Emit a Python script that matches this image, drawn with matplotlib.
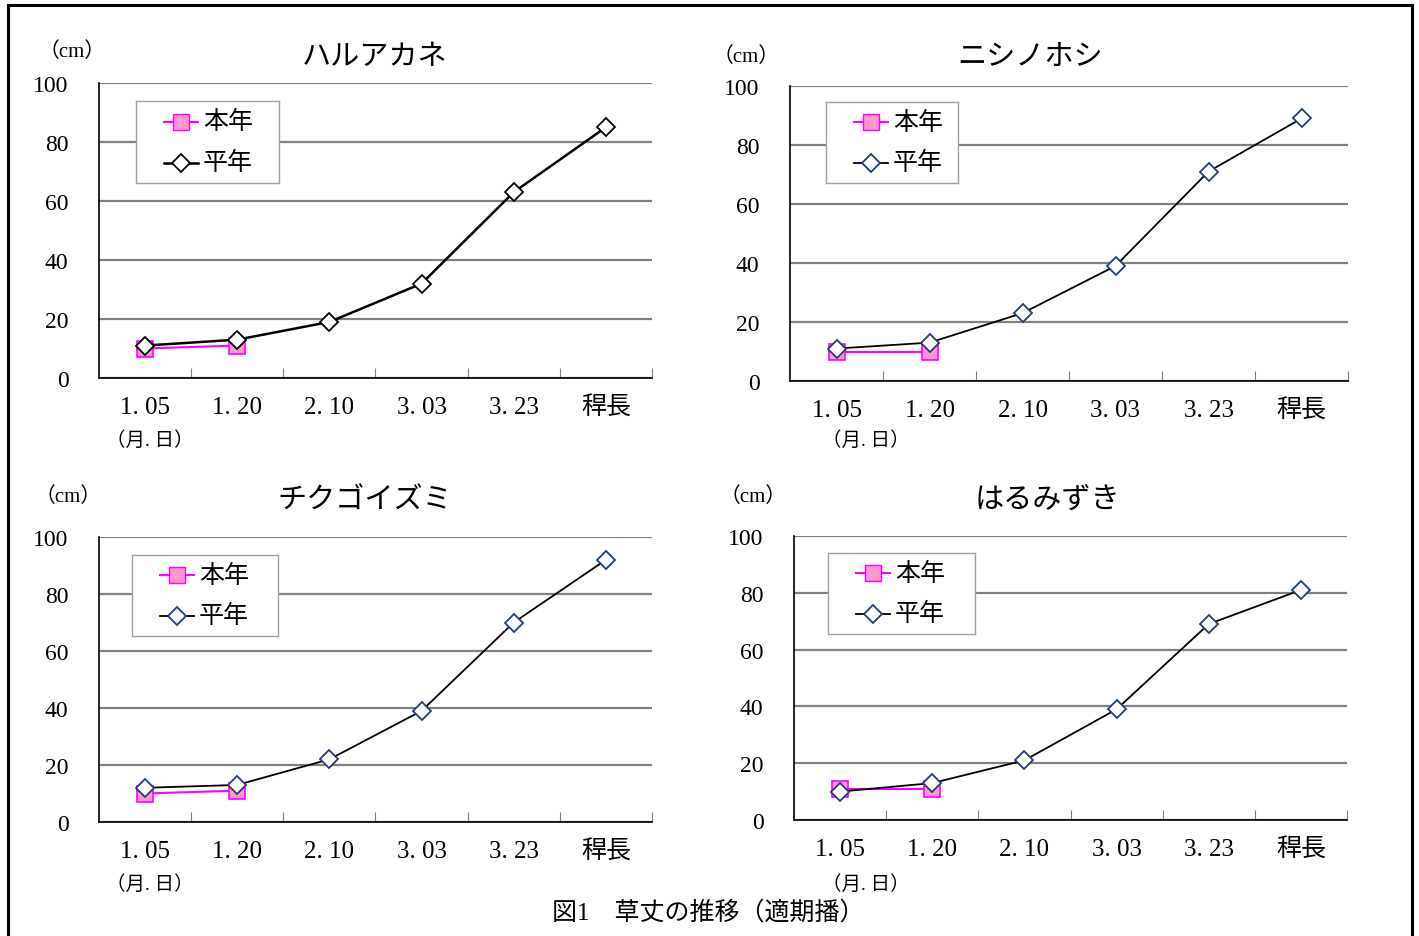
import numpy as np
import matplotlib.pyplot as plt

plt.rcParams['font.family'] = ['Liberation Serif', 'Noto Sans CJK JP', 'DejaVu Sans']

categories = ["1. 05", "1. 20", "2. 10", "3. 03", "3. 23", "稈長"]
titles = ["ハルアカネ", "ニシノホシ", "チクゴイズミ", "はるみずき"]

honnen = [
    [10, 11],
    [10, 10],
    [10, 11],
    [11, 11],
]
heinen = [
    [11, 13, 19, 32, 63, 85],
    [11, 13, 23, 39, 71, 89],
    [12, 13, 22, 39, 70, 92],
    [10, 13, 21, 39, 69, 81],
]

W, H = 1419, 937
fig = plt.figure(figsize=(W / 100, H / 100), dpi=100)


def fx(x):
    return x / W


def fy(y):
    return 1 - y / H


# axes boxes in pixels: left, top, right, bottom
boxes = [
    (99, 84, 652, 379),
    (790, 87, 1348, 382),
    (99, 538, 652, 823),
    (794, 537, 1347, 821),
]
title_pos = [(375, 58), (1030, 58), (365, 502), (1047, 501)]
cm_pos = [(72, 52), (746, 57), (68, 497), (753, 497)]
md_pos = [(150, 441), (866, 441), (150, 885), (866, 885)]
legend_box = [(136, 102, 279, 184), (826, 103, 958, 184),
              (132, 556, 278, 637), (828, 554, 975, 635)]
diamond_edge = ["black", "#1f3f6f", "#1f3f6f", "#1f3f6f"]
line_w = [1.8, 1.3, 1.3, 1.3]

x = np.arange(len(categories))

for i in range(4):
    l, t, r, b = boxes[i]
    ax = fig.add_axes([fx(l), fy(b), fx(r - l), (b - t) / H])

    ax.set_ylim(0, 100)
    ax.set_xlim(-0.5, 5.5)
    ax.set_yticks(np.arange(0, 101, 20))
    ax.yaxis.grid(True, color="#808080", linewidth=1.6)
    ax.set_axisbelow(True)
    ax.tick_params(axis="y", length=0, pad=22, labelsize=17)

    ax.set_xticks(np.arange(0.5, 5.6, 1))
    ax.set_xticklabels([])
    ax.set_xticks(x, minor=True)
    ax.set_xticklabels(categories, minor=True)
    ax.tick_params(axis="x", which="major", direction="in", length=7,
                   width=0.8, color="#808080")
    ax.tick_params(axis="x", which="minor", length=0, pad=13, labelsize=18)

    for s in ["top", "right"]:
        ax.spines[s].set_visible(False)
    ax.spines["left"].set_linewidth(1.2)
    ax.spines["bottom"].set_linewidth(1.2)

    ax.plot(x[:len(honnen[i])], honnen[i], color="#ff00ff", linewidth=1.5,
            marker="s", markersize=11, markerfacecolor="#ff99cc",
            markeredgecolor="#ff00ff", markeredgewidth=1.2, zorder=3)
    ax.plot(x, heinen[i], color="black", linewidth=line_w[i],
            marker="D", markersize=9, markerfacecolor="white",
            markeredgecolor=diamond_edge[i], markeredgewidth=1.3, zorder=4)

    # legend drawn as a box with sample lines
    ll, lt, lr, lb = legend_box[i]
    lax = fig.add_axes([fx(ll), fy(lb), fx(lr - ll), (lb - lt) / H])
    lax.set_xlim(0, lr - ll)
    lax.set_ylim(lb - lt, 0)
    lax.set_xticks([])
    lax.set_yticks([])
    for s in lax.spines.values():
        s.set_color("#a0a0a0")
        s.set_linewidth(1)
    lh = lb - lt
    lax.plot([28, 62], [lh * 0.25, lh * 0.25], color="#ff00ff", linewidth=1.5)
    lax.plot([45], [lh * 0.25], marker="s", markersize=11,
             markerfacecolor="#ff99cc", markeredgecolor="#ff00ff", linestyle="none")
    lax.plot([28, 62], [lh * 0.75, lh * 0.75], color="black", linewidth=line_w[i])
    lax.plot([45], [lh * 0.75], marker="D", markersize=9, markerfacecolor="white",
             markeredgecolor=diamond_edge[i], markeredgewidth=1.3, linestyle="none")
    lax.text(67, lh * 0.25, "本年", fontsize=18, va="center", ha="left")
    lax.text(67, lh * 0.75, "平年", fontsize=18, va="center", ha="left")

    fig.text(fx(title_pos[i][0]), fy(title_pos[i][1]), titles[i], fontsize=21,
             ha="center", va="center")
    fig.text(fx(cm_pos[i][0]), fy(cm_pos[i][1]), "（cm）", fontsize=15,
             ha="center", va="center")
    fig.text(fx(md_pos[i][0]), fy(md_pos[i][1]), "（月. 日）", fontsize=14,
             ha="center", va="center")

fig.text(fx(708), fy(913), "図1　草丈の推移（適期播）", fontsize=18,
         ha="center", va="center")

border = plt.Rectangle((fx(8), fy(960)), fx(1412 - 8), (960 - 6) / H,
                       transform=fig.transFigure, fill=False,
                       edgecolor="black", linewidth=2.2, clip_on=False)
fig.add_artist(border)

plt.savefig("out.png", dpi=100)
